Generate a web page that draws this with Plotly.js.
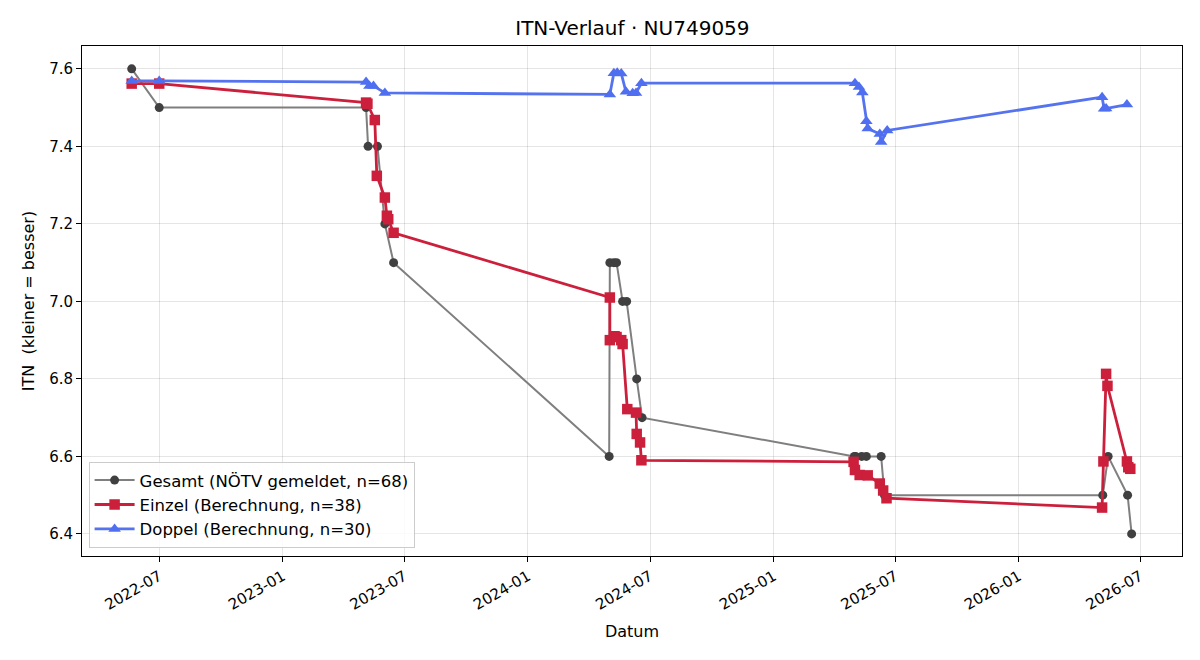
<!DOCTYPE html>
<html>
<head>
<meta charset="utf-8">
<script src="https://cdn.plot.ly/plotly-3.0.1.min.js"></script>
<style>
  html, body { margin: 0; padding: 0; background: #fff; }
  #chart { width: 1200px; height: 660px; }
</style>
</head>
<body>
<div id="chart"></div>
<script>
// Gesamt-ITN laut NÖTV-Meldung
const gesamtDates = [
  "2022-05-21", "2022-07-01", "2023-05-05", "2023-05-08", "2023-05-22",
  "2023-06-02", "2023-06-15", "2024-05-01", "2024-05-02", "2024-05-08",
  "2024-05-12", "2024-05-21", "2024-05-27", "2024-06-11", "2024-06-19",
  "2025-05-01", "2025-05-03", "2025-05-12", "2025-05-19", "2025-06-10",
  "2025-06-15", "2026-05-06", "2026-05-14", "2026-06-12", "2026-06-18"
];
const gesamtItn = [
  7.6, 7.5, 7.5, 7.4, 7.4,
  7.2, 7.1, 6.6, 7.1, 7.1,
  7.1, 7.0, 7.0, 6.8, 6.7,
  6.6, 6.6, 6.6, 6.6, 6.6,
  6.5, 6.5, 6.6, 6.5, 6.4
];

// Einzel-ITN (berechnet)
const einzelDates = [
  "2022-05-21", "2022-07-01", "2023-05-05", "2023-05-07", "2023-05-18",
  "2023-05-21", "2023-06-02", "2023-06-05", "2023-06-07", "2023-06-15",
  "2024-05-02", "2024-05-02", "2024-05-09", "2024-05-12", "2024-05-19",
  "2024-05-21", "2024-05-28", "2024-06-10", "2024-06-11", "2024-06-16",
  "2024-06-18", "2025-04-30", "2025-05-02", "2025-05-09", "2025-05-21",
  "2025-06-08", "2025-06-13", "2025-06-18", "2026-05-05", "2026-05-07",
  "2026-05-11", "2026-05-13", "2026-06-11", "2026-06-13", "2026-06-16"
];
const einzelItn = [
  7.562, 7.562, 7.513, 7.510, 7.468,
  7.324, 7.268, 7.221, 7.212, 7.177,
  7.010, 6.900, 6.910, 6.908, 6.900,
  6.890, 6.722, 6.713, 6.658, 6.636,
  6.590, 6.586, 6.565, 6.552, 6.551,
  6.530, 6.512, 6.492, 6.468, 6.587,
  6.813, 6.782, 6.587, 6.572, 6.568
];

// Doppel-ITN (berechnet)
const doppelDates = [
  "2022-05-21", "2022-07-01", "2023-05-05", "2023-05-10", "2023-05-16",
  "2023-06-02", "2024-05-02", "2024-05-08", "2024-05-13", "2024-05-19",
  "2024-05-26", "2024-06-05", "2024-06-10", "2024-06-18", "2025-05-02",
  "2025-05-08", "2025-05-13", "2025-05-19", "2025-05-21", "2025-06-08",
  "2025-06-10", "2025-06-19", "2026-05-05", "2026-05-08", "2026-05-11",
  "2026-06-11"
];
const doppelItn = [
  7.569, 7.569, 7.566, 7.556, 7.556,
  7.538, 7.534, 7.589, 7.590, 7.588,
  7.541, 7.537, 7.538, 7.563, 7.563,
  7.553, 7.539, 7.465, 7.446, 7.432,
  7.411, 7.441, 7.527, 7.497, 7.498,
  7.508
];

const traces = [
  {
    x: gesamtDates, y: gesamtItn, type: "scatter", mode: "lines+markers",
    name: "Gesamt (NÖTV gemeldet, n=68)",
    line: { color: "#7f7f7f", width: 2 },
    marker: { symbol: "circle", size: 9, color: "#404040" }
  },
  {
    x: einzelDates, y: einzelItn, type: "scatter", mode: "lines+markers",
    name: "Einzel (Berechnung, n=38)",
    line: { color: "#cc1f3c", width: 2.8 },
    marker: { symbol: "square", size: 10.5, color: "#cc1f3c" }
  },
  {
    x: doppelDates, y: doppelItn, type: "scatter", mode: "lines+markers",
    name: "Doppel (Berechnung, n=30)",
    line: { color: "#5573ee", width: 2.8 },
    marker: { symbol: "triangle-up", size: 11, color: "#4f6ff0" }
  }
];

const axisCommon = {
  showline: true, mirror: true, linecolor: "#000", linewidth: 1,
  ticks: "outside", ticklen: 5, tickcolor: "#000",
  showgrid: true, gridcolor: "rgba(0,0,0,0.1)", gridwidth: 1,
  zeroline: false,
  tickfont: { family: "DejaVu Sans", size: 15, color: "#000" }
};

const layout = {
  width: 1200, height: 660,
  margin: { l: 82, r: 18, t: 46, b: 104 },
  paper_bgcolor: "#fff", plot_bgcolor: "#fff",
  font: { family: "DejaVu Sans", color: "#000" },
  title: {
    text: "ITN-Verlauf · NU749059",
    font: { family: "DejaVu Sans", size: 20, color: "#000" },
    x: 0.527, xanchor: "center", y: 0.958, yanchor: "middle"
  },
  xaxis: Object.assign({}, axisCommon, {
    type: "date",
    range: ["2022-03-08", "2026-09-01"],
    tick0: "2022-01-01", dtick: "M6", tickformat: "%Y-%m",
    tickangle: -30,
    title: { text: "Datum", font: { family: "DejaVu Sans", size: 16 }, standoff: 12 }
  }),
  yaxis: Object.assign({}, axisCommon, {
    range: [6.343, 7.659],
    tick0: 6.4, dtick: 0.2, tickformat: ".1f",
    title: { text: "ITN  (kleiner = besser)", font: { family: "DejaVu Sans", size: 16 }, standoff: 10 }
  }),
  legend: {
    x: 0.006, y: 0.016, xanchor: "left", yanchor: "bottom",
    bgcolor: "rgba(255,255,255,0.85)", bordercolor: "#cccccc", borderwidth: 1,
    font: { family: "DejaVu Sans", size: 16.5, color: "#000" },
    itemwidth: 40, tracegroupgap: 0
  },
  showlegend: true
};

Plotly.newPlot("chart", traces, layout, { displayModeBar: false, staticPlot: true });
</script>
</body>
</html>
